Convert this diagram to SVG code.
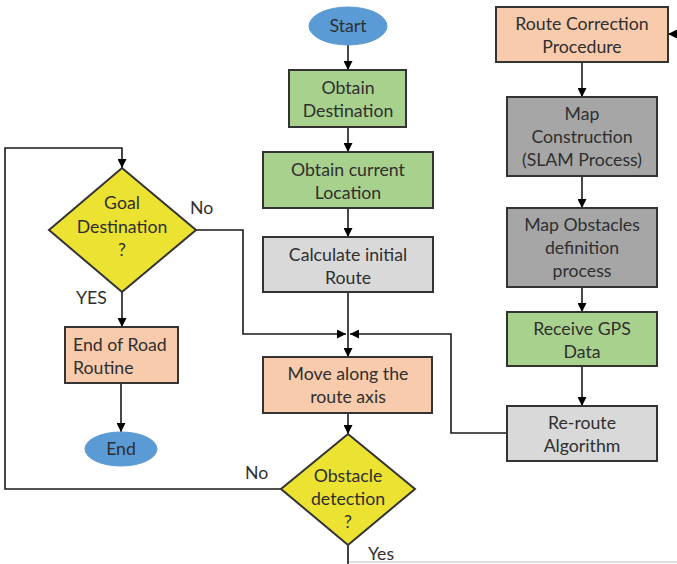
<svg xmlns="http://www.w3.org/2000/svg" width="677" height="564" viewBox="0 0 677 564">
  <style>
    .box { stroke: #333; stroke-width: 2; }
    .green { fill: #a9d18e; }
    .peach { fill: #f8cbad; }
    .light { fill: #d9d9d9; }
    .dark { fill: #a6a6a6; }
    .yellow { fill: #ebe232; }
    .blue { fill: #5b9bd5; stroke: #5b9bd5; stroke-width: 1; }
    text { font-family: Lato, "Open Sans", "Liberation Sans", sans-serif; font-size: 17.7px; fill: #2f2f2f; text-anchor: middle; }
    .lbl { text-anchor: start; }
    .wire { fill: none; stroke: #1a1a1a; stroke-width: 1.6; }
  </style>
  <defs>
    <marker id="arr" viewBox="0 0 10 10" refX="10" refY="5" markerWidth="9" markerHeight="9" markerUnits="userSpaceOnUse" orient="auto">
      <path d="M0,0 L10,5 L0,10 Z" fill="#000"/>
    </marker>
  </defs>

  <!-- connectors -->
  <g id="connectors">
    <line class="wire" x1="348" y1="45" x2="348" y2="70" marker-end="url(#arr)"/>
    <line class="wire" x1="348" y1="127" x2="348" y2="152" marker-end="url(#arr)"/>
    <line class="wire" x1="348" y1="208" x2="348" y2="237" marker-end="url(#arr)"/>
    <line class="wire" x1="348" y1="292" x2="348" y2="357" marker-end="url(#arr)"/>
    <line class="wire" x1="348" y1="413" x2="348" y2="434" marker-end="url(#arr)"/>
    <!-- Goal "No" branch into junction -->
    <polyline class="wire" points="196,230 243,230 243,334 346,334" marker-end="url(#arr)"/>
    <!-- Re-route feedback into junction -->
    <polyline class="wire" points="507,433 451,433 451,334 350,334" marker-end="url(#arr)"/>
    <!-- Obstacle "No" loop back to goal check -->
    <polyline class="wire" points="281,489 5,489 5,148 122,148 122,168" marker-end="url(#arr)"/>
    <!-- Goal "YES" -->
    <line class="wire" x1="122" y1="292" x2="122" y2="327" marker-end="url(#arr)"/>
    <line class="wire" x1="121" y1="383" x2="121" y2="432" marker-end="url(#arr)"/>
    <!-- Obstacle "Yes" exit -->
    <polyline fill="none" stroke="#bdbdbd" stroke-width="1.2" points="348,545 348,562 677,562"/>
    <line class="wire" x1="348" y1="545" x2="348" y2="564"/>
    <!-- entry into Route Correction -->
    <line class="wire" x1="677" y1="34" x2="668" y2="34" marker-end="url(#arr)"/>
    <!-- right column chain -->
    <line class="wire" x1="582" y1="62" x2="582" y2="97" marker-end="url(#arr)"/>
    <line class="wire" x1="582" y1="176" x2="582" y2="208" marker-end="url(#arr)"/>
    <line class="wire" x1="582" y1="287" x2="582" y2="312" marker-end="url(#arr)"/>
    <line class="wire" x1="582" y1="366" x2="582" y2="406" marker-end="url(#arr)"/>
  </g>

  <g id="start">
    <ellipse class="blue" cx="348" cy="26" rx="39" ry="19"/>
    <text x="348" y="32">Start</text>
  </g>

  <g id="obtain-destination">
    <rect class="box green" x="289" y="70" width="117" height="57"/>
    <text x="348" y="94">Obtain</text>
    <text x="348" y="117">Destination</text>
  </g>

  <g id="obtain-location">
    <rect class="box green" x="263" y="152" width="170" height="56"/>
    <text x="348" y="176">Obtain current</text>
    <text x="348" y="199">Location</text>
  </g>

  <g id="initial-route">
    <rect class="box light" x="263" y="237" width="170" height="55"/>
    <text x="348" y="261">Calculate initial</text>
    <text x="348" y="284">Route</text>
  </g>

  <g id="move-along">
    <rect class="box peach" x="263" y="357" width="169" height="56"/>
    <text x="348" y="380">Move along the</text>
    <text x="348" y="403">route axis</text>
  </g>

  <g id="obstacle-detection">
    <polygon class="box yellow" points="348,434 415,489 348,545 281,489"/>
    <text x="348" y="482">Obstacle</text>
    <text x="348" y="505">detection</text>
    <text x="348" y="528">?</text>
  </g>

  <g id="goal-destination">
    <polygon class="box yellow" points="122,168 196,230 122,292 49,230"/>
    <text x="122" y="209">Goal</text>
    <text x="122" y="233">Destination</text>
    <text x="122" y="256">?</text>
  </g>

  <g id="end-of-road">
    <rect class="box peach" x="65" y="327" width="113" height="56"/>
    <text class="lbl" x="73" y="351">End of Road</text>
    <text class="lbl" x="73" y="374">Routine</text>
  </g>

  <g id="end">
    <ellipse class="blue" cx="121" cy="449" rx="36" ry="17"/>
    <text x="121" y="455">End</text>
  </g>

  <g id="route-correction">
    <rect class="box peach" x="496" y="7" width="172" height="55"/>
    <text x="582" y="30">Route Correction</text>
    <text x="582" y="53">Procedure</text>
  </g>

  <g id="map-construction">
    <rect class="box dark" x="507" y="97" width="150" height="79"/>
    <text x="582" y="120">Map</text>
    <text x="582" y="143">Construction</text>
    <text x="582" y="166">(SLAM Process)</text>
  </g>

  <g id="map-obstacles">
    <rect class="box dark" x="507" y="208" width="150" height="79"/>
    <text x="582" y="231">Map Obstacles</text>
    <text x="582" y="254">definition</text>
    <text x="582" y="277">process</text>
  </g>

  <g id="receive-gps">
    <rect class="box green" x="507" y="312" width="150" height="54"/>
    <text x="582" y="335">Receive GPS</text>
    <text x="582" y="358">Data</text>
  </g>

  <g id="re-route">
    <rect class="box light" x="507" y="406" width="150" height="55"/>
    <text x="582" y="429">Re-route</text>
    <text x="582" y="452">Algorithm</text>
  </g>

  <!-- branch labels -->
  <g id="labels">
    <text class="lbl" x="190" y="214">No</text>
    <text class="lbl" x="76" y="304">YES</text>
    <text class="lbl" x="245" y="479">No</text>
    <text class="lbl" x="368" y="560">Yes</text>
  </g>
</svg>
